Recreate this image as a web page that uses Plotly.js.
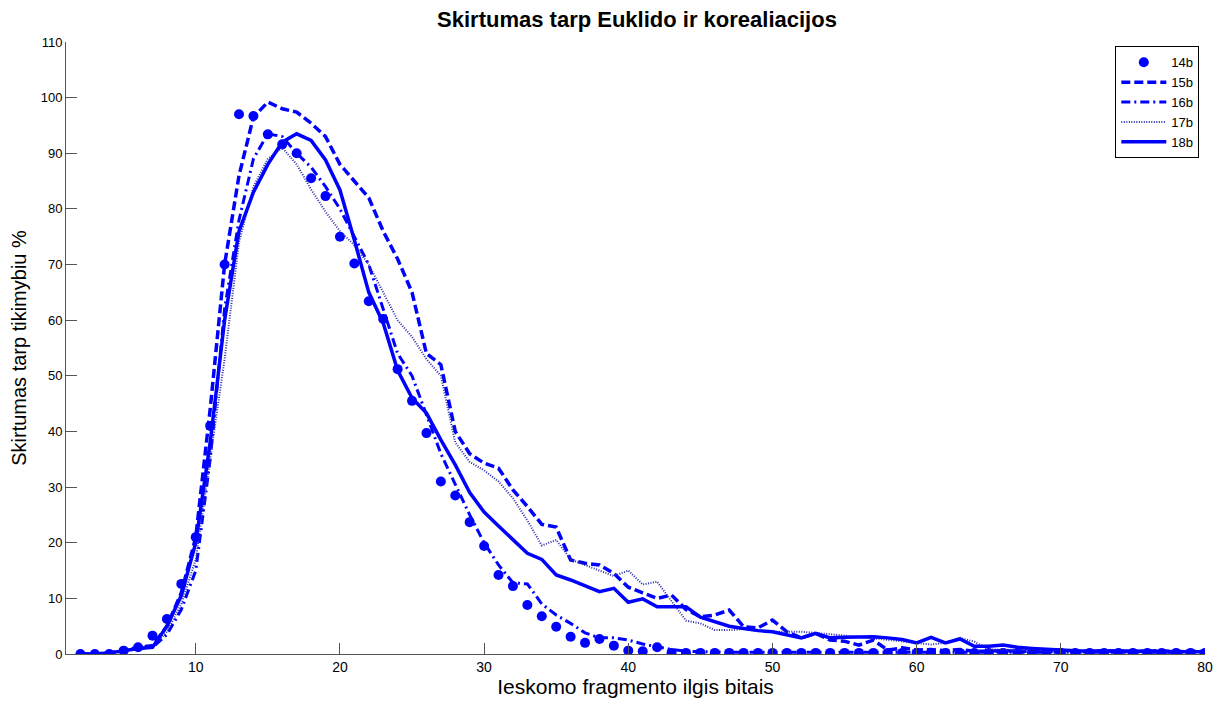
<!DOCTYPE html>
<html>
<head>
<meta charset="utf-8">
<script src="https://cdn.plot.ly/plotly-3.0.1.min.js"></script>
<style>html,body{margin:0;padding:0;background:#fff;}#chart{width:1225px;height:702px;}</style>
</head>
<body>
<div id="chart"></div>
<script>
// x values: searched fragment length (bits)
const xVals = [2,3,4,5,6,7,8,9,10,11,12,13,14,15,16,17,18,19,20,21,22,23,24,25,26,27,28,29,30,31,32,33,34,35,36,37,38,39,40,41,42,43,44,45,46,47,48,49,50,51,52,53,54,55,56,57,58,59,60,61,62,63,64,65,66,67,68,69,70,71,72,73,74,75,76,77,78,79,80];

const s14b = [0,0,0,0.6,1.2,3.3,6.3,12.6,21,41,70,97,96.7,93.4,91.6,90,85.5,82.3,75,70.2,63.4,60.2,51.2,45.5,39.7,31,28.5,23.7,19.4,14.2,12.2,8.8,6.8,4.9,3.1,2,2.7,1.5,0.6,0.5,1.2,0.2,0.2,0.2,0.2,0.2,0.2,0.2,0.2,0.2,0.2,0.2,0.2,0.2,0.2,0.2,0.2,0.2,0.2,0.2,0.2,0.2,0.2,0.2,0.2,0.2,0.2,0.2,0.2,0.2,0.2,0.2,0.2,0.2,0.2,0.2,0.2,0.2,0.2];

const s15b = [0,0,0.2,0.6,1.2,1.5,5,11,21,44,70,86,96.5,99.2,98,97.4,95.4,93,88,85,82,76,71,65,54,52,40,36,34.3,33.4,29.5,26.5,23.3,22.8,16.9,16.3,16,14.5,12,11,10,10.6,8,6.7,7,7.9,4.9,4.7,6.1,4,2.9,3.7,2.5,2.3,1.6,2.5,0.7,1.1,0.7,0.8,0.6,0.8,0.5,0.5,0.6,0.5,0.5,0.4,0.5,0.5,0.4,0.6,0.5,0.4,0.5,0.6,0.4,0.5,0.4];

const s16b = [0,0,0.2,0.5,1,1.2,3.5,8,15,35,62,78,89,93.5,93,90,87.5,84,80,75,70,62,54,50,43,36,30.5,25,20,16,12.8,12.6,9,7,5.5,3.8,2.9,2.9,2.5,1.8,1.3,0.8,0.5,0.4,0.3,0.3,0.3,0.3,0.3,0.3,0.3,0.3,0.3,0.4,0.3,0.3,0.4,0.3,0.4,0.3,0.4,0.4,0.3,0.4,0.3,0.3,0.4,0.3,0.3,0.3,0.4,0.3,0.3,0.3,0.3,0.4,0.3,0.3,0.3];

const s17b = [0,0,0.2,0.5,1,1.2,4,9,17,35,53,74,84,89,91,88,83.5,79.5,76,73.5,70,65,60,57,53,50,38,34.5,33,31,28,24,19.5,20.5,17,16,15,14,15,12.5,13,9.5,6,5.5,4.3,4.3,4.5,4.2,4,4,4,3.8,3.5,3.3,3.1,2.8,2.5,2.2,2,1.7,2,2.9,2.2,0.8,0.8,0.7,0.7,0.6,0.7,0.6,0.6,0.5,0.6,0.5,0.5,0.6,0.5,0.5,0.5];

const s18b = [0,0,0.2,0.6,1,1.2,5,10.5,20,38,60,76,83,88,92,93.5,92.3,88.8,83.4,74.4,65,59.5,51,46,43.3,38.5,34,29,25.5,23,20.5,18.1,17,14.2,13.3,12.3,11.2,11.8,9.3,9.9,8.5,8.5,8.5,6.6,5.8,5,4.6,4.2,4,3.4,2.9,3.7,2.9,3,3.1,3.1,2.9,2.6,2,3,2,2.7,1.4,1.4,1.6,1.2,1,0.8,0.7,0.6,0.6,0.6,0.5,0.5,0.5,0.4,0.4,0.4,0.4];

const seriesNames = ['14b','15b','16b','17b','18b'];
const xTicks = [10,20,30,40,50,60,70,80];
const yTicks = [0,10,20,30,40,50,60,70,80,90,100,110];

const blue = '#0000ff';
const traces = [
  {x: xVals, y: s14b, name: seriesNames[0], mode: 'markers', type: 'scatter',
   marker: {symbol: 'circle', size: 10, color: blue}},
  {x: xVals, y: s15b, name: seriesNames[1], mode: 'lines', type: 'scatter',
   line: {color: blue, width: 3.5, dash: '9px,4px'}},
  {x: xVals, y: s16b, name: seriesNames[2], mode: 'lines', type: 'scatter',
   line: {color: blue, width: 3, dash: '9px,4px,2px,4px'}},
  {x: xVals, y: s17b, name: seriesNames[3], mode: 'lines', type: 'scatter',
   line: {color: '#2a2ab0', width: 2, dash: '1px,1.5px'}},
  {x: xVals, y: s18b, name: seriesNames[4], mode: 'lines', type: 'scatter',
   line: {color: blue, width: 3.5}}
];

const font = 'Liberation Sans, Arial, sans-serif';
const layout = {
  width: 1225, height: 702,
  paper_bgcolor: '#fff', plot_bgcolor: '#fff',
  margin: {l: 66, r: 20, t: 42, b: 48},
  font: {family: font, size: 13, color: '#000'},
  title: {text: '<b>Skirtumas tarp Euklido ir korealiacijos</b>', font: {family: font, size: 22, color: '#000'},
          x: 0.52, xanchor: 'center', y: 0.972, yanchor: 'middle'},
  showlegend: true,
  legend: {x: 0.995, xanchor: 'right', y: 0.993, yanchor: 'top', bgcolor: '#fff', itemwidth: 45,
           bordercolor: '#000', borderwidth: 1, font: {family: font, size: 13}, tracegroupgap: 0},
  xaxis: {range: [1, 80], tickvals: xTicks, ticktext: xTicks.map(String), ticks: 'inside', ticklen: 11,
          tickcolor: '#555', showgrid: false, zeroline: false, showline: true, linecolor: '#555', linewidth: 1,
          tickfont: {size: 14}, mirror: false,
          title: {text: 'Ieskomo fragmento ilgis bitais', font: {size: 21}, standoff: 2}},
  yaxis: {range: [0, 110], tickvals: yTicks, ticktext: yTicks.map(String), ticks: 'inside', ticklen: 11,
          tickcolor: '#555', showgrid: false, zeroline: false, showline: true, linecolor: '#555', linewidth: 1,
          tickfont: {size: 13},
          title: {text: 'Skirtumas tarp tikimybiu %', font: {size: 20}, standoff: 8}}
};
Plotly.newPlot('chart', traces, layout, {displayModeBar: false, staticPlot: true});
</script>
</body>
</html>
